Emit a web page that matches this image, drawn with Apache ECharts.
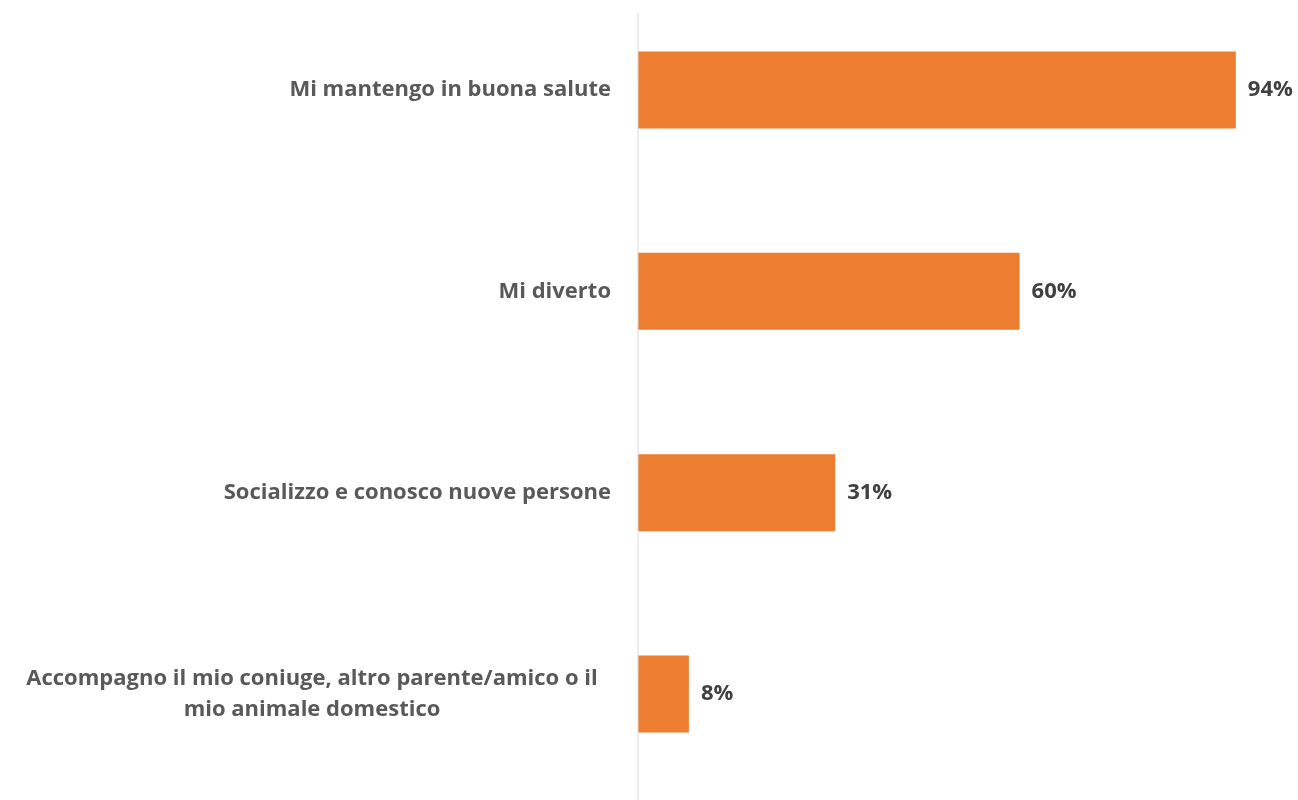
<!DOCTYPE html>
<html><head><meta charset="utf-8">
<script src="https://cdn.jsdelivr.net/npm/echarts@6/dist/echarts.min.js"></script>
<style>html,body{margin:0;padding:0;background:#fff}#c{width:1298px;height:800px}</style>
</head><body><div id="c"></div>
<script>
const categories = [
  "Mi mantengo in buona salute",
  "Mi diverto",
  "Socializzo e conosco nuove persone",
  "Accompagno il mio coniuge, altro parente/amico o il\nmio animale domestico"
];
const values = [94, 60, 31, 8];

const chart = echarts.init(document.getElementById('c'));
const FONT = "'Open Sans', sans-serif";
chart.setOption({
  animation: false,
  grid: { left: 638, right: 24, top: -10.6, bottom: 5.4, containLabel: false, outerBoundsMode: 'none' },
  xAxis: { type: 'value', min: 0, max: 100, show: false },
  yAxis: {
    type: 'category', inverse: true, data: categories,
    axisLine: { show: false }, axisTick: { show: false },
    axisLabel: {
      margin: 27, color: '#595959', fontFamily: FONT, fontWeight: 'bold', fontSize: 22,
      lineHeight: 31,
      formatter: function (v) {
        if (v.indexOf('\n') >= 0) {
          return v.split('\n').map(function (l) { return '{c|' + l + '}'; }).join('\n');
        }
        return v;
      },
      rich: { c: { width: 598, align: 'center', color: '#595959', fontFamily: FONT, fontWeight: 'bold', fontSize: 22, lineHeight: 31 } }
    }
  },
  series: [{
    type: 'bar', data: values, barWidth: 77,
    itemStyle: { color: '#ED7D31' },
    label: { show: true, position: 'right', distance: 12, formatter: '{c}%',
      color: '#404040', fontFamily: FONT, fontWeight: 'bold', fontSize: 22 }
  }]
});
const x0 = chart.convertToPixel({ xAxisIndex: 0 }, 0);
chart.setOption({
  graphic: [{ type: 'line', shape: { x1: x0, y1: 13, x2: x0, y2: 800 },
    style: { stroke: '#D9D9D9', lineWidth: 1 }, z: 10 }]
});
</script></body></html>
